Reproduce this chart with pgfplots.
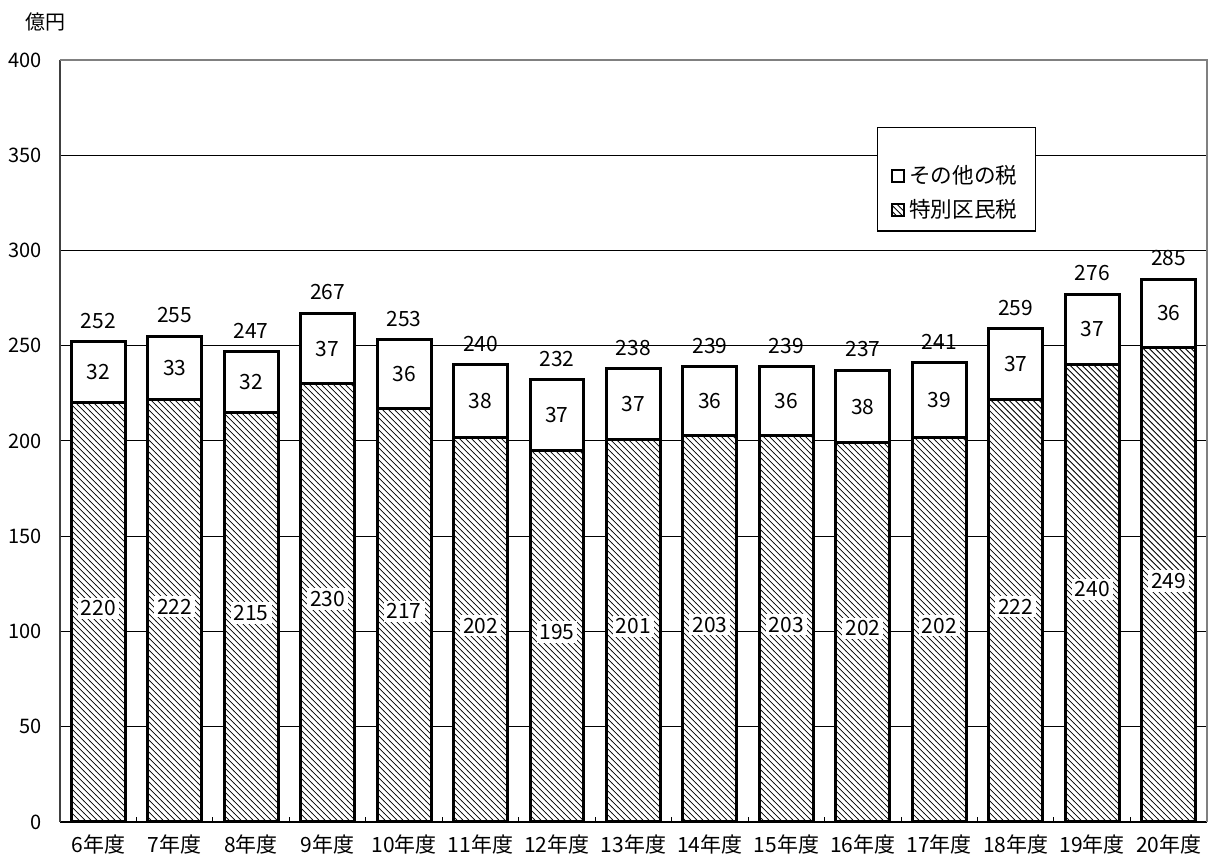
\documentclass[border=0pt]{standalone}
\usepackage{fontspec}
\setmainfont{Noto Sans CJK JP}
\usepackage{pgfplots}
\usepackage{pgfplotstable}
\pgfplotsset{compat=1.18}
\usetikzlibrary{patterns}

\pgfplotstableread{
x bot top tot botlab toplab totlab
0  220 32 252 220 32 252
1  222 33 255 222 33 255
2  215 32 247 215 32 247
3  230 37 267 230 37 267
4  217 36 253 217 36 253
5  202 38 240 202 38 240
6  195 37 232 195 37 232
7  201 37 238 201 37 238
8  203 36 239 203 36 239
9  203 36 239 203 36 239
10 199 38 237 202 38 237
11 202 39 241 202 39 241
12 222 37 259 222 37 259
13 240 37 277 240 37 276
14 249 36 285 249 36 285
}\data

\pgfplotstablecreatecol[expr={\thisrow{bot}/2}]{botmid}{\data}
\pgfplotstablecreatecol[expr={\thisrow{bot}+\thisrow{top}/2}]{topmid}{\data}

\begin{document}
\begin{tikzpicture}
\begin{axis}[
  scale only axis, width=573.5pt, height=381pt,
  xmin=-0.5, xmax=14.5, ymin=0, ymax=400,
  ytick={0,50,...,400},
  ymajorgrids, grid style={black, line width=0.5pt},
  xtick={0,...,14},
  xticklabels={6年度,7年度,8年度,9年度,10年度,11年度,12年度,13年度,14年度,15年度,16年度,17年度,18年度,19年度,20年度},
  minor x tick num=1,
  major tick length=0pt, minor tick length=2.5pt,
  tick align=inside, tick pos=left,
  minor tick style={black, line width=0.5pt},
  axis x line*=bottom, axis y line*=left,
  x axis line style={black, line width=0.8pt, -},
  y axis line style={black!75, line width=0.8pt, -},
  /pgf/number format/assume math mode=true,
  yticklabel style={font=\fontsize{10}{12}\selectfont, xshift=-5.5pt},
  xticklabel style={font=\fontsize{10.5}{12}\selectfont, yshift=-3pt},
  legend style={at={(0.712,0.912)}, anchor=north west, draw=black, line width=0.6pt,
    fill=white, inner xsep=7pt, inner ysep=3pt, row sep=2.5pt,
    font=\fontsize{10.8}{13}\selectfont, legend cell align=left},
  legend image code/.code={\draw[#1, line width=1pt] (0pt,-3pt) rectangle (6pt,3pt);},
  clip=false,
]
\path (rel axis cs:-0.0523,-0.0472) rectangle (rel axis cs:1.0009,1.0787);
\draw[gray, line width=0.8pt] (rel axis cs:0,1) -- (rel axis cs:1,1) -- (rel axis cs:1,0);

\addlegendimage{empty legend}
\addlegendentry{\rule{0pt}{6pt}}

\addplot[ybar, bar width=0.706, bar shift=0pt, draw=black, line width=1.5pt, fill=white]
  table[x=x, y=tot] {\data};
\addlegendentry{その他の税}

\addplot[ybar, bar width=0.706, bar shift=0pt, draw=black, line width=1.5pt, fill=white,
  postaction={pattern=north west lines}]
  table[x=x, y=bot] {\data};
\addlegendentry{特別区民税}

\addplot[draw=none, mark=none, forget plot, nodes near coords, point meta=explicit symbolic,
  every node near coord/.append style={anchor=center, fill=white, inner xsep=1.5pt, inner ysep=1.5pt, yshift=2pt,
    font=\fontsize{10.5}{12}\selectfont}]
  table[x=x, y=botmid, meta=botlab] {\data};

\addplot[draw=none, mark=none, forget plot, nodes near coords, point meta=explicit symbolic,
  every node near coord/.append style={anchor=center, inner sep=1pt,
    font=\fontsize{10.5}{12}\selectfont}]
  table[x=x, y=topmid, meta=toplab] {\data};

\addplot[draw=none, mark=none, forget plot, nodes near coords, point meta=explicit symbolic,
  every node near coord/.append style={anchor=center, inner sep=1pt, yshift=10.5pt,
    font=\fontsize{10.5}{12}\selectfont}]
  table[x=x, y=tot, meta=totlab] {\data};

\node[font=\fontsize{10}{12}\selectfont] at (rel axis cs:-0.013,1.05) {億円};
\end{axis}
\end{tikzpicture}
\end{document}
